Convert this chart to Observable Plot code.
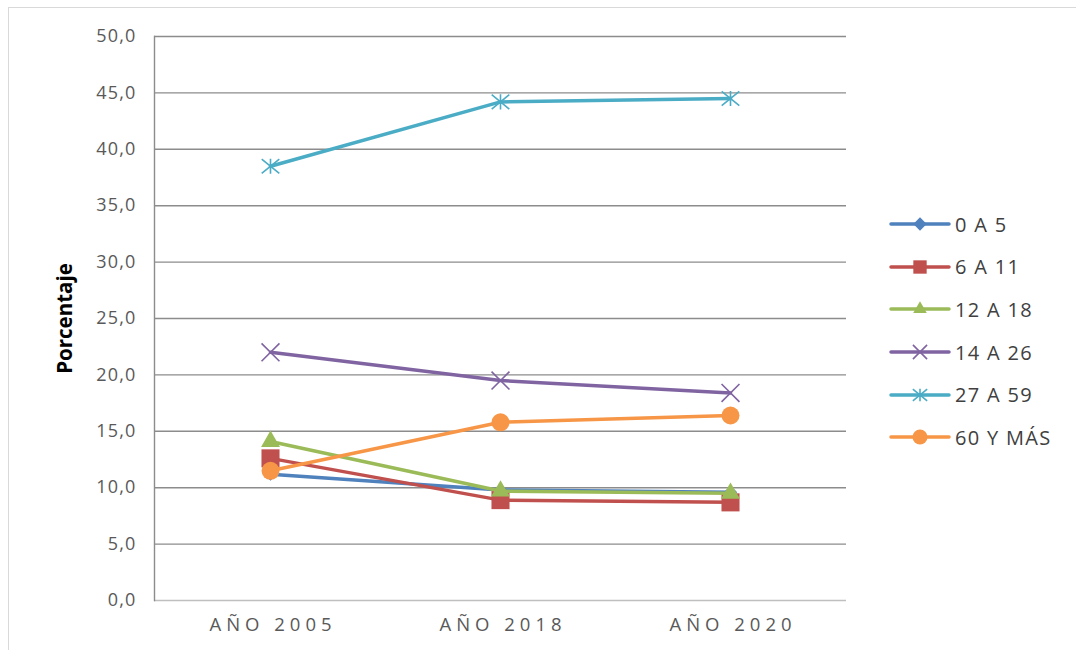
<!DOCTYPE html>
<html>
<head>
<meta charset="utf-8">
<script src="https://cdn.jsdelivr.net/npm/d3@7"></script>
<script src="https://cdn.jsdelivr.net/npm/@observablehq/plot@0.6"></script>
<style>
  body { margin: 0; background: #fff; }
  #wrap { position: relative; width: 1076px; height: 650px; overflow: hidden; font-family: "Open Sans", "Liberation Sans", sans-serif; }
  #frame { position: absolute; left: 8px; top: 7px; right: -10px; bottom: -10px; border-top: 1px solid #d9d9d9; border-left: 1px solid #d9d9d9; }
  #legend { position: absolute; left: 888px; top: 203px; }
  .item { display: flex; align-items: center; height: 42.6px; font-size: 20px; letter-spacing: 1.3px; color: #404040; }
  .item svg { margin-right: 3px; }
  #chart g[aria-label="y-axis tick label"] text { font-size: 18px !important; letter-spacing: 1.2px; }
  #chart g[aria-label="x-axis tick label"] text { font-size: 18.5px !important; letter-spacing: 5px; }
  #chart g[aria-label="text"] text { font-size: 20.5px !important; }
</style>
</head>
<body>
<div id="wrap"><div id="frame"></div><div id="chart"></div><div id="legend"></div></div>
<script>
const years = ["AÑO 2005", "AÑO 2018", "AÑO 2020"];
const seriesNames = ["0 A 5", "6 A 11", "12 A 18", "14 A 26", "27 A 59", "60 Y MÁS"];
const v0a5   = [11.2, 9.8, 9.6];
const v6a11  = [12.6, 8.9, 8.7];
const v12a18 = [14.1, 9.7, 9.5];
const v14a26 = [22.0, 19.5, 18.4];
const v27a59 = [38.5, 44.2, 44.5];
const v60    = [11.5, 15.8, 16.4];
const yTicks = [0, 5, 10, 15, 20, 25, 30, 35, 40, 45, 50];

const valuesBySeries = [v0a5, v6a11, v12a18, v14a26, v27a59, v60];
const colors = ["#4F81BD", "#C0504D", "#9BBB59", "#8064A2", "#4BACC6", "#F79646"];

// Excel-style star: X plus a vertical bar
const star = {
  draw(context, size) {
    const r = Math.sqrt(size / Math.PI);
    const w = r * 1.1, h = r * 0.9;
    context.moveTo(-w, -h); context.lineTo(w, h);
    context.moveTo(-w, h); context.lineTo(w, -h);
    context.moveTo(0, -h * 1.05); context.lineTo(0, h * 1.05);
  }
};
const symbols = [d3.symbolDiamond2, d3.symbolSquare2, d3.symbolTriangle2, d3.symbolTimes, star, d3.symbolCircle];
const lineSymbol = [false, false, false, true, true, false];
const radii = [6, 11.5, 9, 8.2, 8, 9];
const legendRadii = [6, 8.5, 6.5, 6.5, 6.5, 7.5];

const data = [];
seriesNames.forEach((s, i) => years.forEach((y, j) => data.push({serie: s, year: y, value: valuesBySeries[i][j], idx: i})));

const marks = [
  Plot.ruleY(yTicks.filter(t => t > 0), {stroke: "#8c8c8c", strokeWidth: 1.4}),
  Plot.ruleY([0], {stroke: "#bfbfbf", strokeWidth: 1.4}),
  Plot.axisY({ticks: yTicks, tickFormat: d => d.toFixed(1).replace(".", ","), tickSize: 0, tickPadding: 18, fontSize: 18, color: "#595959", label: null}),
  Plot.axisX({tickSize: 0, tickPadding: 17, dx: 2.5, fontSize: 18.5, color: "#595959", label: null}),
  Plot.frame({anchor: "left", stroke: "#8c8c8c", strokeWidth: 1.4}),
  Plot.text(["Porcentaje"], {frameAnchor: "left", textAnchor: "middle", rotate: -90, dx: -89, fontSize: 20.5, fontWeight: "bold", fill: "#000"})
];
seriesNames.forEach((s, i) => {
  const d = data.filter(r => r.idx === i);
  marks.push(Plot.line(d, {x: "year", y: "value", stroke: colors[i], strokeWidth: 3.5}));
  marks.push(Plot.dot(d, {x: "year", y: "value", symbol: () => symbols[i], r: radii[i],
    fill: lineSymbol[i] ? "none" : colors[i], stroke: colors[i], strokeWidth: lineSymbol[i] ? 1.6 : 0}));
});

const chart = Plot.plot({
  width: 1076, height: 650,
  marginLeft: 154, marginRight: 230, marginTop: 36, marginBottom: 50,
  style: {fontFamily: "'Open Sans', 'Liberation Sans', sans-serif", background: "transparent"},
  x: {type: "point", domain: years, padding: 0.5},
  y: {domain: [0, 50]},
  symbol: {type: "identity"},
  marks
});
document.getElementById("chart").appendChild(chart);

const legend = document.getElementById("legend");
seriesNames.forEach((s, i) => {
  const item = document.createElement("div");
  item.className = "item";
  const sw = d3.create("svg").attr("width", 64).attr("height", 20);
  sw.append("line").attr("x1", 3).attr("x2", 61).attr("y1", 10).attr("y2", 10)
    .attr("stroke", colors[i]).attr("stroke-width", 3.5).attr("stroke-linecap", "round");
  const r = legendRadii[i];
  sw.append("path").attr("transform", "translate(32,10)")
    .attr("d", d3.symbol(symbols[i], Math.PI * r * r)())
    .attr("fill", lineSymbol[i] ? "none" : colors[i]).attr("stroke", colors[i]).attr("stroke-width", lineSymbol[i] ? 1.6 : 0);
  item.appendChild(sw.node());
  const label = document.createElement("span");
  label.textContent = s;
  item.appendChild(label);
  legend.appendChild(item);
});
</script>
</body>
</html>
